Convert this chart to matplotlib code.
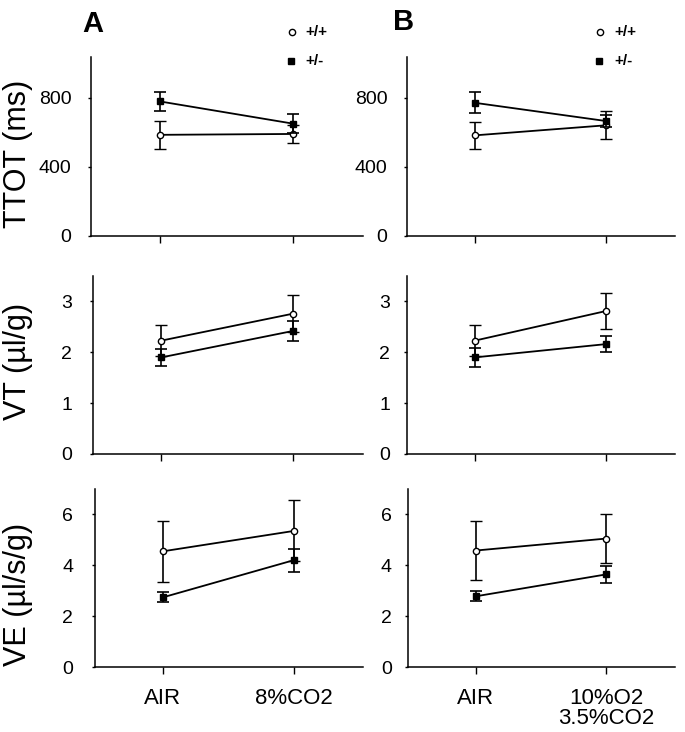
import matplotlib
matplotlib.use("Agg")
import matplotlib.pyplot as plt

plt.rcParams['font.family'] = ['Liberation Sans', 'DejaVu Sans']

# Conditions
cond_A = ["AIR", "8%CO2"]
cond_B = ["AIR", "10%O2\n3.5%CO2"]
genotypes = ["+/+", "+/-"]

# TTOT (ms)
ttot_A_wt = [585, 590];   ttot_A_wt_err = [80, 50]
ttot_A_het = [778, 650];  ttot_A_het_err = [55, 55]
ttot_B_wt = [582, 640];   ttot_B_wt_err = [80, 82]
ttot_B_het = [770, 665];  ttot_B_het_err = [60, 35]

# VT (µl/g)
vt_A_wt = [2.23, 2.76];   vt_A_wt_err = [0.30, 0.37]
vt_A_het = [1.90, 2.42];  vt_A_het_err = [0.17, 0.20]
vt_B_wt = [2.23, 2.81];   vt_B_wt_err = [0.31, 0.35]
vt_B_het = [1.90, 2.16];  vt_B_het_err = [0.18, 0.16]

# VE (µl/s/g)
ve_A_wt = [4.55, 5.35];   ve_A_wt_err = [1.2, 1.2]
ve_A_het = [2.74, 4.20];  ve_A_het_err = [0.2, 0.45]
ve_B_wt = [4.58, 5.05];   ve_B_wt_err = [1.15, 0.95]
ve_B_het = [2.78, 3.64];  ve_B_het_err = [0.2, 0.35]

ylabels = ["TTOT (ms)", "VT (\u00b5l/g)", "VE (\u00b5l/s/g)"]
yticks = [[0, 400, 800], [0, 1, 2, 3], [0, 2, 4, 6]]
ylims = [(0, 1035), (0, 3.5), (0, 7.0)]
label_yfrac = [0.46, 0.52, 0.41]

data = [
    [(ttot_A_wt, ttot_A_wt_err, ttot_A_het, ttot_A_het_err),
     (ttot_B_wt, ttot_B_wt_err, ttot_B_het, ttot_B_het_err)],
    [(vt_A_wt, vt_A_wt_err, vt_A_het, vt_A_het_err),
     (vt_B_wt, vt_B_wt_err, vt_B_het, vt_B_het_err)],
    [(ve_A_wt, ve_A_wt_err, ve_A_het, ve_A_het_err),
     (ve_B_wt, ve_B_wt_err, ve_B_het, ve_B_het_err)],
]

W, H = 685, 732
fig = plt.figure(figsize=(W / 100, H / 100), dpi=100)

rows_px = [(57, 236), (276, 454), (489, 667)]
cols_px = [[(91, 363), (407, 675)], [(93, 363), (407, 675)], [(95, 363), (408, 675)]]
ypads = [[12, 12], [13, 10], [13.5, 9.5]]

for r in range(3):
    top, bot = rows_px[r]
    for c in range(2):
        left, right = cols_px[r][c]
        ax = fig.add_axes([left / W, 1 - bot / H, (right - left) / W, (bot - top) / H])
        wt, wte, het, hete = data[r][c]
        x = [0, 1]
        ax.errorbar(x, wt, yerr=wte, color='black', lw=1.3, elinewidth=1.2,
                    capsize=4.5, capthick=1.2, marker='o', markersize=4.5,
                    markerfacecolor='white', markeredgecolor='black',
                    markeredgewidth=1.0, label=genotypes[0], zorder=3)
        ax.errorbar(x, het, yerr=hete, color='black', lw=1.3, elinewidth=1.2,
                    capsize=4.5, capthick=1.2, marker='s', markersize=5,
                    markerfacecolor='black', markeredgecolor='black',
                    label=genotypes[1], zorder=4)
        ax.set_xlim(-0.52, 1.53)
        ax.set_ylim(*ylims[r])
        ax.set_yticks(yticks[r])
        ax.tick_params(axis='y', direction='out', length=2.2, width=1.0,
                       pad=ypads[r][c], labelsize=14)
        ax.set_xticks(x)
        if r == 2:
            ax.set_xticklabels(cond_A if c == 0 else cond_B, fontsize=16,
                               linespacing=0.95, va='top')
        else:
            ax.set_xticklabels([])
        ax.tick_params(axis='x', direction='out', length=5, width=1.0, pad=10)
        for s in ['top', 'right']:
            ax.spines[s].set_visible(False)
        for s in ['left', 'bottom']:
            ax.spines[s].set_linewidth(1.1)
        if c == 0:
            ax.set_ylabel(ylabels[r], fontsize=22)
            ax.yaxis.set_label_coords((33 - left) / (right - left), label_yfrac[r])

# Panel letters
fig.text(82 / W, 1 - 32 / H, "A", fontsize=21, fontweight='bold', ha='left', va='baseline')
fig.text(393 / W, 1 - 30 / H, "B", fontsize=21, fontweight='bold', ha='left', va='baseline')

# Legends (marker + bold text)
for (mx, tx) in [(292, 305), (600, 614)]:
    fig.lines.append(plt.Line2D([mx / W], [1 - 32 / H], marker='o', markersize=4.5,
                                markerfacecolor='white', markeredgecolor='black',
                                markeredgewidth=1.0, transform=fig.transFigure))
    fig.lines.append(plt.Line2D([(mx - 1) / W], [1 - 61 / H], marker='s', markersize=5,
                                markerfacecolor='black', markeredgecolor='black',
                                transform=fig.transFigure))
    fig.text(tx / W, 1 - 32 / H, genotypes[0], fontsize=11, fontweight='bold', va='center')
    fig.text(tx / W, 1 - 61 / H, genotypes[1], fontsize=11, fontweight='bold', va='center')

fig.savefig("out.png", dpi=100)
